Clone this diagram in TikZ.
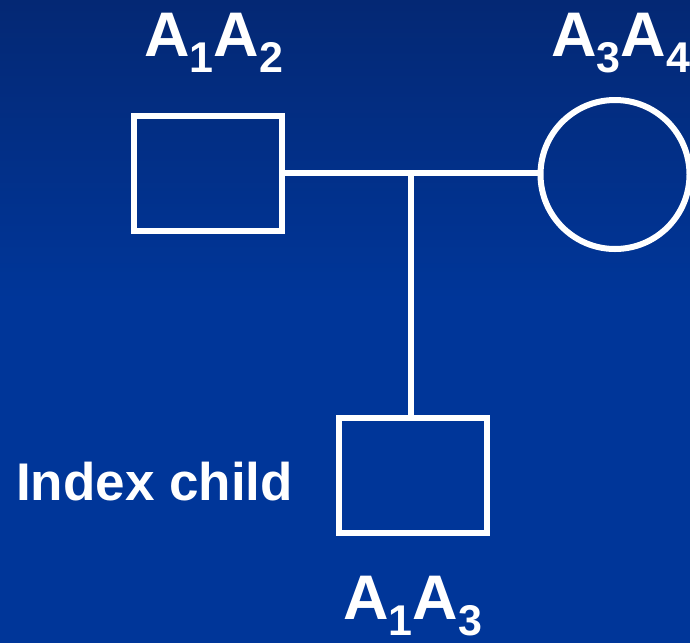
\documentclass[tikz,border=0pt]{standalone}
\usepackage{fontspec}
\setmainfont{Liberation Sans}
\newcommand\lowdigit[1]{\raisebox{-16pt}{\fontsize{43}{43}\selectfont #1}}
\begin{document}
\begin{tikzpicture}[x=1pt,y=-1pt,
  member/.style={draw=white,line width=6pt,inner sep=0pt},
  male/.style={member,rectangle,minimum width=148pt,minimum height=115pt},
  female/.style={member,circle,minimum size=149pt},
  link/.style={draw=white,line width=5.5pt},
  geno/.style={text=white,inner sep=0pt,anchor=base west,font=\bfseries\fontsize{63}{63}\selectfont},
  caption/.style={text=white,inner sep=0pt,anchor=base west,font=\bfseries\fontsize{53}{53}\selectfont}]
  % background: darker band at the top fading into the plain blue
  \useasboundingbox (0,0) rectangle (690,643);
  \fill[color={rgb,255:red,0;green,54;blue,153}] (0,0) rectangle (690,643);
  \shade[top color={rgb,255:red,4;green,40;blue,116},bottom color={rgb,255:red,0;green,54;blue,153}] (0,0) rectangle (690,300);

  % family members
  \node[male] (father) at (208,173.5) {};
  \node[female] (mother) at (615,174.5) {};
  \node[male] (child) at (412.5,475) {};

  % mating line and descent line
  \coordinate (mid) at (411,173);
  \draw[link] (father.east |- mid) -- (mother.west |- mid);
  \draw[link] (mid) -- (mid |- child.north);

  % genotypes and caption
  \node[geno] (gf) at (144,56) {A\lowdigit{1}A\lowdigit{2}};
  \node[geno] (gm) at (551,56) {A\lowdigit{3}A\lowdigit{4}};
  \node[geno] (gc) at (343,619) {A\lowdigit{1}A\lowdigit{3}};
  \node[caption] (idx) at (16,500) {Index child};
\end{tikzpicture}
\end{document}
